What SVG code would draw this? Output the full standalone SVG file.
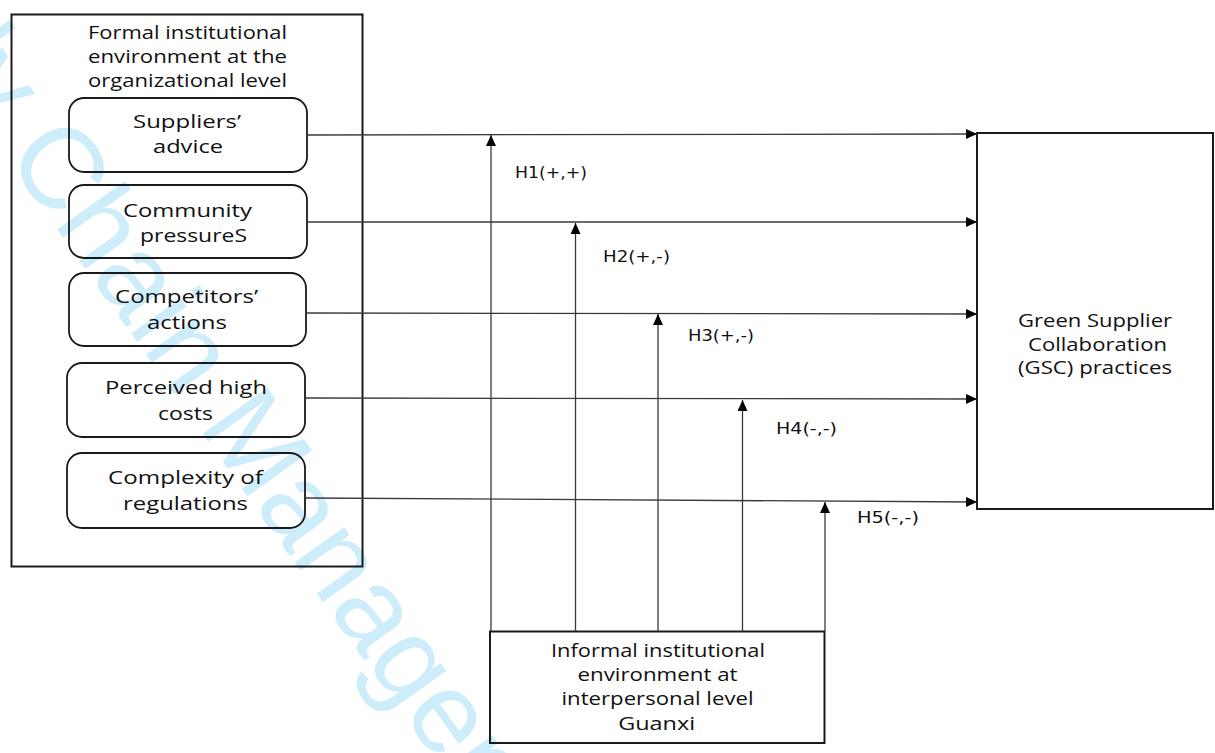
<svg xmlns="http://www.w3.org/2000/svg" width="1215" height="753" viewBox="0 0 1215 753">
<defs>
<marker id="arr" markerUnits="userSpaceOnUse" markerWidth="13" markerHeight="11" refX="11" refY="5" orient="auto">
<path d="M0,0 L11,5 L0,10 z" fill="#000"/>
</marker>
<style>
.box{fill:none;stroke:#1a1a1a;stroke-width:2}
.rbox{fill:none;stroke:#1a1a1a;stroke-width:1.8}
.lbl{font-family:"Open Sans","Noto Sans",sans-serif;font-size:18px;fill:#111;text-anchor:middle}
.h{font-family:"DejaVu Sans",sans-serif;font-size:16px;fill:#111}
.con{stroke:#3a3a3a;stroke-width:1.3;fill:none;marker-end:url(#arr)}
.wm{font-family:"Liberation Sans",Arial,sans-serif;font-size:115px;fill:#cdedfb}
</style>
</defs>
<rect width="1215" height="753" fill="#fff"/>
<g id="watermark">
<text class="wm" transform="translate(-218.5,-156.9) rotate(54.5)" x="0" y="0">Supply Chain Management</text>
</g>
<g id="formal-env">
<rect class="box" x="11.5" y="14.5" width="351" height="552"/>
<text class="lbl" x="187.5" y="39.3" textLength="199" lengthAdjust="spacingAndGlyphs">Formal institutional</text>
<text class="lbl" x="187.5" y="63.3" textLength="199" lengthAdjust="spacingAndGlyphs">environment at the</text>
<text class="lbl" x="187.5" y="87" textLength="199" lengthAdjust="spacingAndGlyphs">organizational level</text>
</g>
<g id="suppliers-advice">
<rect class="rbox" x="69" y="98" width="238" height="74" rx="15"/>
<text class="lbl" x="187" y="128" textLength="108" lengthAdjust="spacingAndGlyphs">Suppliers’</text>
<text class="lbl" x="188" y="153.3" textLength="70" lengthAdjust="spacingAndGlyphs">advice</text>
</g>
<g id="community-pressures">
<rect class="rbox" x="69" y="185" width="238" height="73" rx="15"/>
<text class="lbl" x="187.5" y="216.7" textLength="129" lengthAdjust="spacingAndGlyphs">Community</text>
<text class="lbl" x="193.5" y="241.7" textLength="107" lengthAdjust="spacingAndGlyphs">pressureS</text>
</g>
<g id="competitors-actions">
<rect class="rbox" x="69" y="273" width="237" height="73" rx="15"/>
<text class="lbl" x="186.5" y="303" textLength="143" lengthAdjust="spacingAndGlyphs">Competitors’</text>
<text class="lbl" x="187" y="329" textLength="80" lengthAdjust="spacingAndGlyphs">actions</text>
</g>
<g id="perceived-costs">
<rect class="rbox" x="67" y="363" width="238" height="74" rx="15"/>
<text class="lbl" x="186" y="394.3" textLength="162" lengthAdjust="spacingAndGlyphs">Perceived high</text>
<text class="lbl" x="185.5" y="420" textLength="55" lengthAdjust="spacingAndGlyphs">costs</text>
</g>
<g id="complexity-regulations">
<rect class="rbox" x="67" y="453" width="238" height="75" rx="15"/>
<text class="lbl" x="185.5" y="484" textLength="155" lengthAdjust="spacingAndGlyphs">Complexity of</text>
<text class="lbl" x="185.5" y="510" textLength="125" lengthAdjust="spacingAndGlyphs">regulations</text>
</g>
<g id="gsc">
<rect class="box" x="977" y="133" width="236" height="376"/>
<text class="lbl" x="1095" y="327" textLength="154" lengthAdjust="spacingAndGlyphs">Green Supplier</text>
<text class="lbl" x="1097.5" y="350.5" textLength="139" lengthAdjust="spacingAndGlyphs">Collaboration</text>
<text class="lbl" x="1095" y="374" textLength="154" lengthAdjust="spacingAndGlyphs">(GSC) practices</text>
</g>
<g id="guanxi">
<rect class="box" x="490" y="631.5" width="334.5" height="111.5"/>
<text class="lbl" x="658" y="656.7" textLength="214" lengthAdjust="spacingAndGlyphs">Informal institutional</text>
<text class="lbl" x="657.5" y="681" textLength="160" lengthAdjust="spacingAndGlyphs">environment at</text>
<text class="lbl" x="657.5" y="705" textLength="192" lengthAdjust="spacingAndGlyphs">interpersonal level</text>
<text class="lbl" x="656.7" y="730" textLength="77" lengthAdjust="spacingAndGlyphs">Guanxi</text>
</g>
<g id="connectors">
<line class="con" x1="307" y1="135" x2="977" y2="134"/>
<line class="con" x1="307" y1="222" x2="977" y2="222"/>
<line class="con" x1="307" y1="313" x2="977" y2="314"/>
<line class="con" x1="305" y1="398" x2="977" y2="399"/>
<line class="con" x1="305" y1="498" x2="977" y2="502"/>
<line class="con" x1="491" y1="631" x2="491" y2="135"/>
<line class="con" x1="575.5" y1="631" x2="575.5" y2="223"/>
<line class="con" x1="658" y1="631" x2="658" y2="314"/>
<line class="con" x1="742.5" y1="631" x2="742.5" y2="400"/>
<line class="con" x1="825" y1="631" x2="825" y2="502"/>
</g>
<g id="labels">
<text class="h" x="515" y="177.7" textLength="72" lengthAdjust="spacingAndGlyphs">H1(+,+)</text>
<text class="h" x="603" y="261.7" textLength="67" lengthAdjust="spacingAndGlyphs">H2(+,-)</text>
<text class="h" x="688" y="340.7" textLength="66" lengthAdjust="spacingAndGlyphs">H3(+,-)</text>
<text class="h" x="776" y="434" textLength="61" lengthAdjust="spacingAndGlyphs">H4(-,-)</text>
<text class="h" x="857" y="522.7" textLength="62" lengthAdjust="spacingAndGlyphs">H5(-,-)</text>
</g>
</svg>
